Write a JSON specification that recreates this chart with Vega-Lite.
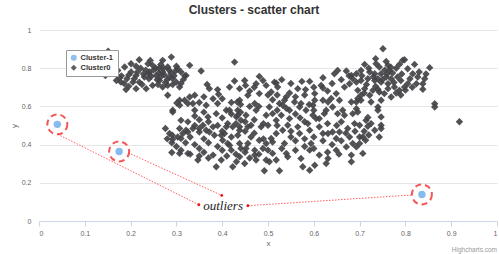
{
  "$schema": "https://vega.github.io/schema/vega-lite/v6.json",
  "width": 458,
  "height": 191,
  "autosize": {"type": "none"},
  "padding": {"left": 39, "top": 30, "right": 2, "bottom": 33},
  "background": "white",
  "title": {"text": "Clusters - scatter chart", "fontSize": 12, "fontWeight": "bold", "color": "#333333", "font": "Liberation Sans", "anchor": "middle", "dx": -14, "offset": 9},
  "config": {"view": {"stroke": null}, "font": "Liberation Sans"},
  "datasets": {
    "out": [
      {"x": 0.04, "y": 0.506, "c": "Cluster-1"},
      {"x": 0.175, "y": 0.364, "c": "Cluster-1"},
      {"x": 0.836, "y": 0.139, "c": "Cluster-1"}
    ],
    "arrows": [
      {"x": 0.041, "y": 0.454, "x2": 0.349, "y2": 0.085},
      {"x": 0.195, "y": 0.357, "x2": 0.399, "y2": 0.134},
      {"x": 0.813, "y": 0.136, "x2": 0.456, "y2": 0.080}
    ],
    "notes": [
      {"x": 0.402, "y": 0.076, "t": "outliers"}
    ],
    "credit": [
      {"x": 1.0, "y": -0.152, "t": "Highcharts.com"}
    ],
    "pts": [
      {"x": 0.04, "y": 0.506, "c": "Cluster-1"},
      {"x": 0.175, "y": 0.364, "c": "Cluster-1"},
      {"x": 0.836, "y": 0.139, "c": "Cluster-1"},
      {"x":0.151,"y":0.889,"c":"Cluster0"},{"x":0.145,"y":0.762,"c":"Cluster0"},{"x":0.172,"y":0.788,"c":"Cluster0"},{"x":0.169,"y":0.736,"c":"Cluster0"},{"x":0.179,"y":0.727,"c":"Cluster0"},{"x":0.19,"y":0.688,"c":"Cluster0"},{"x":0.187,"y":0.806,"c":"Cluster0"},{"x":0.201,"y":0.823,"c":"Cluster0"},{"x":0.219,"y":0.844,"c":"Cluster0"},{"x":0.238,"y":0.823,"c":"Cluster0"},{"x":0.248,"y":0.815,"c":"Cluster0"},{"x":0.27,"y":0.841,"c":"Cluster0"},{"x":0.289,"y":0.858,"c":"Cluster0"},{"x":0.303,"y":0.797,"c":"Cluster0"},{"x":0.31,"y":0.78,"c":"Cluster0"},{"x":0.329,"y":0.815,"c":"Cluster0"},{"x":0.281,"y":0.806,"c":"Cluster0"},{"x":0.285,"y":0.754,"c":"Cluster0"},{"x":0.3,"y":0.727,"c":"Cluster0"},{"x":0.307,"y":0.701,"c":"Cluster0"},{"x":0.281,"y":0.71,"c":"Cluster0"},{"x":0.263,"y":0.736,"c":"Cluster0"},{"x":0.256,"y":0.762,"c":"Cluster0"},{"x":0.241,"y":0.78,"c":"Cluster0"},{"x":0.23,"y":0.754,"c":"Cluster0"},{"x":0.219,"y":0.727,"c":"Cluster0"},{"x":0.212,"y":0.762,"c":"Cluster0"},{"x":0.201,"y":0.78,"c":"Cluster0"},{"x":0.205,"y":0.727,"c":"Cluster0"},{"x":0.212,"y":0.693,"c":"Cluster0"},{"x":0.234,"y":0.693,"c":"Cluster0"},{"x":0.248,"y":0.71,"c":"Cluster0"},{"x":0.27,"y":0.701,"c":"Cluster0"},
      {"x":0.18,"y":0.76,"c":"Cluster0"},{"x":0.192,"y":0.745,"c":"Cluster0"},{"x":0.196,"y":0.765,"c":"Cluster0"},{"x":0.208,"y":0.745,"c":"Cluster0"},{"x":0.215,"y":0.78,"c":"Cluster0"},{"x":0.222,"y":0.8,"c":"Cluster0"},{"x":0.228,"y":0.77,"c":"Cluster0"},{"x":0.233,"y":0.79,"c":"Cluster0"},{"x":0.24,"y":0.745,"c":"Cluster0"},{"x":0.245,"y":0.758,"c":"Cluster0"},{"x":0.25,"y":0.79,"c":"Cluster0"},{"x":0.255,"y":0.8,"c":"Cluster0"},{"x":0.258,"y":0.74,"c":"Cluster0"},{"x":0.262,"y":0.775,"c":"Cluster0"},{"x":0.266,"y":0.755,"c":"Cluster0"},{"x":0.27,"y":0.78,"c":"Cluster0"},{"x":0.274,"y":0.765,"c":"Cluster0"},{"x":0.276,"y":0.725,"c":"Cluster0"},{"x":0.28,"y":0.74,"c":"Cluster0"},{"x":0.284,"y":0.79,"c":"Cluster0"},{"x":0.288,"y":0.775,"c":"Cluster0"},{"x":0.292,"y":0.745,"c":"Cluster0"},{"x":0.295,"y":0.76,"c":"Cluster0"},{"x":0.298,"y":0.785,"c":"Cluster0"},{"x":0.292,"y":0.715,"c":"Cluster0"},{"x":0.26,"y":0.715,"c":"Cluster0"},{"x":0.266,"y":0.82,"c":"Cluster0"},{"x":0.243,"y":0.84,"c":"Cluster0"},{"x":0.225,"y":0.715,"c":"Cluster0"},{"x":0.186,"y":0.72,"c":"Cluster0"},{"x":0.176,"y":0.75,"c":"Cluster0"},{"x":0.315,"y":0.74,"c":"Cluster0"},{"x":0.318,"y":0.76,"c":"Cluster0"},{"x":0.31,"y":0.72,"c":"Cluster0"},{"x":0.3,"y":0.81,"c":"Cluster0"},{"x":0.262,"y":0.8,"c":"Cluster0"},{"x":0.212,"y":0.81,"c":"Cluster0"},{"x":0.196,"y":0.705,"c":"Cluster0"},{"x":0.24,"y":0.77,"c":"Cluster0"},{"x":0.272,"y":0.8,"c":"Cluster0"},
      {"x":0.281,"y":0.658,"c":"Cluster0"},{"x":0.307,"y":0.632,"c":"Cluster0"},{"x":0.325,"y":0.615,"c":"Cluster0"},{"x":0.292,"y":0.58,"c":"Cluster0"},{"x":0.307,"y":0.606,"c":"Cluster0"},{"x":0.318,"y":0.632,"c":"Cluster0"},{"x":0.329,"y":0.649,"c":"Cluster0"},{"x":0.336,"y":0.615,"c":"Cluster0"},{"x":0.34,"y":0.58,"c":"Cluster0"},{"x":0.354,"y":0.785,"c":"Cluster0"},{"x":0.372,"y":0.693,"c":"Cluster0"},{"x":0.39,"y":0.688,"c":"Cluster0"},{"x":0.416,"y":0.701,"c":"Cluster0"},{"x":0.427,"y":0.832,"c":"Cluster0"},{"x":0.427,"y":0.733,"c":"Cluster0"},{"x":0.438,"y":0.632,"c":"Cluster0"},{"x":0.416,"y":0.58,"c":"Cluster0"},{"x":0.434,"y":0.554,"c":"Cluster0"},{"x":0.456,"y":0.658,"c":"Cluster0"},{"x":0.367,"y":0.715,"c":"Cluster0"},{"x":0.392,"y":0.663,"c":"Cluster0"},{"x":0.34,"y":0.658,"c":"Cluster0"},{"x":0.321,"y":0.762,"c":"Cluster0"},{"x":0.449,"y":0.736,"c":"Cluster0"},{"x":0.451,"y":0.71,"c":"Cluster0"},{"x":0.438,"y":0.693,"c":"Cluster0"},{"x":0.474,"y":0.719,"c":"Cluster0"},{"x":0.481,"y":0.757,"c":"Cluster0"},{"x":0.496,"y":0.71,"c":"Cluster0"},{"x":0.481,"y":0.667,"c":"Cluster0"},{"x":0.433,"y":0.623,"c":"Cluster0"},{"x":0.514,"y":0.727,"c":"Cluster0"},{"x":0.507,"y":0.675,"c":"Cluster0"},{"x":0.301,"y":0.618,"c":"Cluster0"},{"x":0.292,"y":0.571,"c":"Cluster0"},
      {"x":0.518,"y":0.722,"c":"Cluster0"},{"x":0.521,"y":0.701,"c":"Cluster0"},{"x":0.574,"y":0.731,"c":"Cluster0"},{"x":0.591,"y":0.731,"c":"Cluster0"},{"x":0.547,"y":0.67,"c":"Cluster0"},{"x":0.565,"y":0.693,"c":"Cluster0"},{"x":0.582,"y":0.688,"c":"Cluster0"},{"x":0.602,"y":0.667,"c":"Cluster0"},{"x":0.62,"y":0.696,"c":"Cluster0"},{"x":0.645,"y":0.771,"c":"Cluster0"},{"x":0.652,"y":0.788,"c":"Cluster0"},{"x":0.671,"y":0.785,"c":"Cluster0"},{"x":0.682,"y":0.762,"c":"Cluster0"},{"x":0.693,"y":0.771,"c":"Cluster0"},{"x":0.678,"y":0.719,"c":"Cluster0"},{"x":0.667,"y":0.701,"c":"Cluster0"},{"x":0.649,"y":0.667,"c":"Cluster0"},{"x":0.656,"y":0.632,"c":"Cluster0"},{"x":0.638,"y":0.641,"c":"Cluster0"},{"x":0.696,"y":0.684,"c":"Cluster0"},{"x":0.696,"y":0.641,"c":"Cluster0"},{"x":0.51,"y":0.635,"c":"Cluster0"},{"x":0.536,"y":0.632,"c":"Cluster0"},{"x":0.558,"y":0.623,"c":"Cluster0"},{"x":0.602,"y":0.632,"c":"Cluster0"},{"x":0.62,"y":0.632,"c":"Cluster0"},{"x":0.489,"y":0.736,"c":"Cluster0"},{"x":0.616,"y":0.71,"c":"Cluster0"},{"x":0.365,"y":0.606,"c":"Cluster0"},{"x":0.39,"y":0.615,"c":"Cluster0"},{"x":0.387,"y":0.562,"c":"Cluster0"},{"x":0.369,"y":0.545,"c":"Cluster0"},{"x":0.409,"y":0.58,"c":"Cluster0"},{"x":0.434,"y":0.58,"c":"Cluster0"},{"x":0.431,"y":0.545,"c":"Cluster0"},{"x":0.452,"y":0.554,"c":"Cluster0"},{"x":0.471,"y":0.615,"c":"Cluster0"},{"x":0.496,"y":0.554,"c":"Cluster0"},{"x":0.627,"y":0.58,"c":"Cluster0"},{"x":0.605,"y":0.536,"c":"Cluster0"},{"x":0.641,"y":0.597,"c":"Cluster0"},{"x":0.663,"y":0.58,"c":"Cluster0"},{"x":0.685,"y":0.562,"c":"Cluster0"},{"x":0.569,"y":0.597,"c":"Cluster0"},{"x":0.583,"y":0.58,"c":"Cluster0"},{"x":0.547,"y":0.58,"c":"Cluster0"},{"x":0.525,"y":0.615,"c":"Cluster0"},{"x":0.503,"y":0.597,"c":"Cluster0"},{"x":0.474,"y":0.58,"c":"Cluster0"},{"x":0.74,"y":0.597,"c":"Cluster0"},{"x":0.747,"y":0.545,"c":"Cluster0"},{"x":0.747,"y":0.501,"c":"Cluster0"},{"x":0.714,"y":0.527,"c":"Cluster0"},
      {"x":0.751,"y":0.902,"c":"Cluster0"},{"x":0.798,"y":0.844,"c":"Cluster0"},{"x":0.787,"y":0.82,"c":"Cluster0"},{"x":0.805,"y":0.797,"c":"Cluster0"},{"x":0.853,"y":0.803,"c":"Cluster0"},{"x":0.711,"y":0.82,"c":"Cluster0"},{"x":0.736,"y":0.823,"c":"Cluster0"},{"x":0.743,"y":0.806,"c":"Cluster0"},{"x":0.762,"y":0.815,"c":"Cluster0"},{"x":0.765,"y":0.788,"c":"Cluster0"},{"x":0.703,"y":0.788,"c":"Cluster0"},{"x":0.722,"y":0.78,"c":"Cluster0"},{"x":0.733,"y":0.771,"c":"Cluster0"},{"x":0.747,"y":0.771,"c":"Cluster0"},{"x":0.758,"y":0.754,"c":"Cluster0"},{"x":0.769,"y":0.745,"c":"Cluster0"},{"x":0.783,"y":0.754,"c":"Cluster0"},{"x":0.816,"y":0.771,"c":"Cluster0"},{"x":0.827,"y":0.754,"c":"Cluster0"},{"x":0.842,"y":0.745,"c":"Cluster0"},{"x":0.838,"y":0.719,"c":"Cluster0"},{"x":0.824,"y":0.719,"c":"Cluster0"},{"x":0.805,"y":0.719,"c":"Cluster0"},{"x":0.798,"y":0.701,"c":"Cluster0"},{"x":0.787,"y":0.684,"c":"Cluster0"},{"x":0.776,"y":0.701,"c":"Cluster0"},{"x":0.762,"y":0.719,"c":"Cluster0"},{"x":0.747,"y":0.727,"c":"Cluster0"},{"x":0.733,"y":0.736,"c":"Cluster0"},{"x":0.718,"y":0.745,"c":"Cluster0"},{"x":0.703,"y":0.736,"c":"Cluster0"},{"x":0.693,"y":0.727,"c":"Cluster0"},{"x":0.711,"y":0.693,"c":"Cluster0"},{"x":0.729,"y":0.684,"c":"Cluster0"},{"x":0.743,"y":0.675,"c":"Cluster0"},{"x":0.754,"y":0.667,"c":"Cluster0"},{"x":0.762,"y":0.693,"c":"Cluster0"},{"x":0.769,"y":0.649,"c":"Cluster0"},{"x":0.703,"y":0.658,"c":"Cluster0"},{"x":0.722,"y":0.658,"c":"Cluster0"},{"x":0.725,"y":0.623,"c":"Cluster0"},{"x":0.693,"y":0.623,"c":"Cluster0"},{"x":0.747,"y":0.632,"c":"Cluster0"},{"x":0.864,"y":0.614,"c":"Cluster0"},{"x":0.864,"y":0.597,"c":"Cluster0"},{"x":0.918,"y":0.52,"c":"Cluster0"},{"x":0.794,"y":0.841,"c":"Cluster0"},
      {"x":0.755,"y":0.79,"c":"Cluster0"},{"x":0.772,"y":0.775,"c":"Cluster0"},{"x":0.78,"y":0.8,"c":"Cluster0"},{"x":0.792,"y":0.77,"c":"Cluster0"},{"x":0.775,"y":0.725,"c":"Cluster0"},{"x":0.79,"y":0.735,"c":"Cluster0"},{"x":0.81,"y":0.745,"c":"Cluster0"},{"x":0.815,"y":0.7,"c":"Cluster0"},{"x":0.83,"y":0.78,"c":"Cluster0"},{"x":0.845,"y":0.77,"c":"Cluster0"},{"x":0.72,"y":0.8,"c":"Cluster0"},{"x":0.73,"y":0.755,"c":"Cluster0"},{"x":0.74,"y":0.745,"c":"Cluster0"},{"x":0.75,"y":0.74,"c":"Cluster0"},{"x":0.76,"y":0.77,"c":"Cluster0"},{"x":0.768,"y":0.805,"c":"Cluster0"},{"x":0.715,"y":0.715,"c":"Cluster0"},{"x":0.735,"y":0.705,"c":"Cluster0"},{"x":0.74,"y":0.69,"c":"Cluster0"},{"x":0.78,"y":0.67,"c":"Cluster0"},{"x":0.79,"y":0.66,"c":"Cluster0"},{"x":0.8,"y":0.685,"c":"Cluster0"},{"x":0.705,"y":0.76,"c":"Cluster0"},{"x":0.685,"y":0.745,"c":"Cluster0"},{"x":0.677,"y":0.76,"c":"Cluster0"},{"x":0.71,"y":0.67,"c":"Cluster0"},{"x":0.758,"y":0.835,"c":"Cluster0"},{"x":0.82,"y":0.82,"c":"Cluster0"},{"x":0.735,"y":0.85,"c":"Cluster0"},{"x":0.838,"y":0.69,"c":"Cluster0"},
      {"x":0.703,"y":0.632,"c":"Cluster0"},{"x":0.696,"y":0.571,"c":"Cluster0"},{"x":0.718,"y":0.542,"c":"Cluster0"},{"x":0.74,"y":0.58,"c":"Cluster0"},{"x":0.7,"y":0.501,"c":"Cluster0"},{"x":0.718,"y":0.496,"c":"Cluster0"},{"x":0.747,"y":0.484,"c":"Cluster0"},{"x":0.733,"y":0.475,"c":"Cluster0"},{"x":0.743,"y":0.44,"c":"Cluster0"},{"x":0.707,"y":0.44,"c":"Cluster0"},{"x":0.713,"y":0.423,"c":"Cluster0"},{"x":0.7,"y":0.406,"c":"Cluster0"},{"x":0.693,"y":0.388,"c":"Cluster0"},{"x":0.707,"y":0.354,"c":"Cluster0"},{"x":0.532,"y":0.606,"c":"Cluster0"},{"x":0.572,"y":0.615,"c":"Cluster0"},{"x":0.598,"y":0.606,"c":"Cluster0"},{"x":0.631,"y":0.623,"c":"Cluster0"},{"x":0.682,"y":0.623,"c":"Cluster0"},{"x":0.693,"y":0.588,"c":"Cluster0"},{"x":0.51,"y":0.562,"c":"Cluster0"},{"x":0.529,"y":0.554,"c":"Cluster0"},{"x":0.518,"y":0.527,"c":"Cluster0"},{"x":0.547,"y":0.536,"c":"Cluster0"},{"x":0.543,"y":0.501,"c":"Cluster0"},{"x":0.532,"y":0.475,"c":"Cluster0"},{"x":0.518,"y":0.458,"c":"Cluster0"},{"x":0.51,"y":0.414,"c":"Cluster0"},{"x":0.536,"y":0.406,"c":"Cluster0"},{"x":0.565,"y":0.493,"c":"Cluster0"},{"x":0.569,"y":0.458,"c":"Cluster0"},{"x":0.587,"y":0.51,"c":"Cluster0"},{"x":0.591,"y":0.475,"c":"Cluster0"},{"x":0.598,"y":0.554,"c":"Cluster0"},{"x":0.612,"y":0.536,"c":"Cluster0"},{"x":0.623,"y":0.562,"c":"Cluster0"},{"x":0.612,"y":0.493,"c":"Cluster0"},{"x":0.62,"y":0.458,"c":"Cluster0"},{"x":0.631,"y":0.458,"c":"Cluster0"},{"x":0.641,"y":0.466,"c":"Cluster0"},{"x":0.656,"y":0.466,"c":"Cluster0"},{"x":0.652,"y":0.562,"c":"Cluster0"},{"x":0.667,"y":0.554,"c":"Cluster0"},{"x":0.689,"y":0.51,"c":"Cluster0"},{"x":0.674,"y":0.484,"c":"Cluster0"},{"x":0.649,"y":0.432,"c":"Cluster0"},{"x":0.678,"y":0.44,"c":"Cluster0"},{"x":0.685,"y":0.406,"c":"Cluster0"},{"x":0.671,"y":0.388,"c":"Cluster0"},{"x":0.594,"y":0.406,"c":"Cluster0"},{"x":0.591,"y":0.371,"c":"Cluster0"},{"x":0.572,"y":0.327,"c":"Cluster0"},{"x":0.612,"y":0.345,"c":"Cluster0"},{"x":0.649,"y":0.371,"c":"Cluster0"},{"x":0.682,"y":0.31,"c":"Cluster0"},{"x":0.543,"y":0.336,"c":"Cluster0"},{"x":0.51,"y":0.354,"c":"Cluster0"},{"x":0.518,"y":0.319,"c":"Cluster0"},{"x":0.492,"y":0.263,"c":"Cluster0"},{"x":0.525,"y":0.263,"c":"Cluster0"},{"x":0.503,"y":0.31,"c":"Cluster0"},{"x":0.576,"y":0.284,"c":"Cluster0"},{"x":0.591,"y":0.266,"c":"Cluster0"},{"x":0.602,"y":0.292,"c":"Cluster0"},{"x":0.627,"y":0.301,"c":"Cluster0"},{"x":0.631,"y":0.327,"c":"Cluster0"},{"x":0.682,"y":0.345,"c":"Cluster0"},{"x":0.54,"y":0.354,"c":"Cluster0"},{"x":0.471,"y":0.345,"c":"Cluster0"},{"x":0.496,"y":0.319,"c":"Cluster0"},
      {"x":0.325,"y":0.519,"c":"Cluster0"},{"x":0.358,"y":0.501,"c":"Cluster0"},{"x":0.412,"y":0.51,"c":"Cluster0"},{"x":0.409,"y":0.493,"c":"Cluster0"},{"x":0.441,"y":0.527,"c":"Cluster0"},{"x":0.438,"y":0.493,"c":"Cluster0"},{"x":0.463,"y":0.501,"c":"Cluster0"},{"x":0.485,"y":0.493,"c":"Cluster0"},{"x":0.5,"y":0.501,"c":"Cluster0"},{"x":0.325,"y":0.466,"c":"Cluster0"},{"x":0.35,"y":0.466,"c":"Cluster0"},{"x":0.372,"y":0.466,"c":"Cluster0"},{"x":0.383,"y":0.449,"c":"Cluster0"},{"x":0.398,"y":0.449,"c":"Cluster0"},{"x":0.401,"y":0.423,"c":"Cluster0"},{"x":0.412,"y":0.406,"c":"Cluster0"},{"x":0.434,"y":0.449,"c":"Cluster0"},{"x":0.438,"y":0.406,"c":"Cluster0"},{"x":0.456,"y":0.406,"c":"Cluster0"},{"x":0.463,"y":0.44,"c":"Cluster0"},{"x":0.481,"y":0.423,"c":"Cluster0"},{"x":0.496,"y":0.406,"c":"Cluster0"},{"x":0.507,"y":0.432,"c":"Cluster0"},{"x":0.42,"y":0.371,"c":"Cluster0"},{"x":0.452,"y":0.38,"c":"Cluster0"},{"x":0.471,"y":0.371,"c":"Cluster0"},{"x":0.489,"y":0.38,"c":"Cluster0"},{"x":0.5,"y":0.371,"c":"Cluster0"},{"x":0.325,"y":0.354,"c":"Cluster0"},{"x":0.347,"y":0.319,"c":"Cluster0"},{"x":0.398,"y":0.319,"c":"Cluster0"},{"x":0.431,"y":0.31,"c":"Cluster0"},{"x":0.449,"y":0.301,"c":"Cluster0"},{"x":0.474,"y":0.319,"c":"Cluster0"},{"x":0.276,"y":0.484,"c":"Cluster0"},{"x":0.291,"y":0.449,"c":"Cluster0"},{"x":0.292,"y":0.428,"c":"Cluster0"},{"x":0.307,"y":0.484,"c":"Cluster0"},{"x":0.321,"y":0.475,"c":"Cluster0"},{"x":0.336,"y":0.484,"c":"Cluster0"},{"x":0.35,"y":0.484,"c":"Cluster0"},{"x":0.365,"y":0.475,"c":"Cluster0"},{"x":0.38,"y":0.493,"c":"Cluster0"},{"x":0.31,"y":0.432,"c":"Cluster0"},{"x":0.29,"y":0.359,"c":"Cluster0"},{"x":0.307,"y":0.354,"c":"Cluster0"},{"x":0.38,"y":0.345,"c":"Cluster0"},{"x":0.387,"y":0.284,"c":"Cluster0"},{"x":0.423,"y":0.284,"c":"Cluster0"},{"x":0.438,"y":0.336,"c":"Cluster0"},{"x":0.416,"y":0.397,"c":"Cluster0"},{"x":0.441,"y":0.38,"c":"Cluster0"},{"x":0.405,"y":0.458,"c":"Cluster0"},{"x":0.423,"y":0.493,"c":"Cluster0"},{"x":0.438,"y":0.475,"c":"Cluster0"},{"x":0.456,"y":0.493,"c":"Cluster0"},{"x":0.285,"y":0.458,"c":"Cluster0"},{"x":0.303,"y":0.44,"c":"Cluster0"},{"x":0.314,"y":0.458,"c":"Cluster0"},{"x":0.31,"y":0.527,"c":"Cluster0"},
      {"x":0.55,"y":0.44,"c":"Cluster0"},{"x":0.56,"y":0.42,"c":"Cluster0"},{"x":0.58,"y":0.43,"c":"Cluster0"},{"x":0.6,"y":0.44,"c":"Cluster0"},{"x":0.62,"y":0.42,"c":"Cluster0"},{"x":0.64,"y":0.4,"c":"Cluster0"},{"x":0.66,"y":0.42,"c":"Cluster0"},{"x":0.655,"y":0.35,"c":"Cluster0"},{"x":0.63,"y":0.36,"c":"Cluster0"},{"x":0.6,"y":0.38,"c":"Cluster0"},{"x":0.58,"y":0.39,"c":"Cluster0"},{"x":0.56,"y":0.37,"c":"Cluster0"},{"x":0.53,"y":0.38,"c":"Cluster0"},{"x":0.52,"y":0.5,"c":"Cluster0"},{"x":0.55,"y":0.47,"c":"Cluster0"},{"x":0.58,"y":0.52,"c":"Cluster0"},{"x":0.63,"y":0.51,"c":"Cluster0"},{"x":0.65,"y":0.5,"c":"Cluster0"},{"x":0.66,"y":0.52,"c":"Cluster0"},{"x":0.67,"y":0.46,"c":"Cluster0"},{"x":0.69,"y":0.47,"c":"Cluster0"},{"x":0.7,"y":0.44,"c":"Cluster0"},{"x":0.71,"y":0.47,"c":"Cluster0"},{"x":0.725,"y":0.51,"c":"Cluster0"},{"x":0.72,"y":0.45,"c":"Cluster0"},{"x":0.36,"y":0.43,"c":"Cluster0"},{"x":0.34,"y":0.4,"c":"Cluster0"},{"x":0.35,"y":0.38,"c":"Cluster0"},{"x":0.37,"y":0.41,"c":"Cluster0"},{"x":0.39,"y":0.39,"c":"Cluster0"},{"x":0.4,"y":0.37,"c":"Cluster0"},{"x":0.36,"y":0.36,"c":"Cluster0"},{"x":0.37,"y":0.33,"c":"Cluster0"},{"x":0.41,"y":0.34,"c":"Cluster0"},{"x":0.43,"y":0.35,"c":"Cluster0"},{"x":0.45,"y":0.36,"c":"Cluster0"},{"x":0.46,"y":0.33,"c":"Cluster0"},{"x":0.48,"y":0.35,"c":"Cluster0"},{"x":0.49,"y":0.43,"c":"Cluster0"},{"x":0.47,"y":0.46,"c":"Cluster0"},{"x":0.45,"y":0.47,"c":"Cluster0"},{"x":0.42,"y":0.44,"c":"Cluster0"},{"x":0.39,"y":0.5,"c":"Cluster0"},{"x":0.37,"y":0.52,"c":"Cluster0"},{"x":0.35,"y":0.53,"c":"Cluster0"},{"x":0.34,"y":0.55,"c":"Cluster0"},{"x":0.36,"y":0.57,"c":"Cluster0"},{"x":0.4,"y":0.54,"c":"Cluster0"},{"x":0.42,"y":0.56,"c":"Cluster0"},{"x":0.45,"y":0.52,"c":"Cluster0"},{"x":0.47,"y":0.53,"c":"Cluster0"},{"x":0.48,"y":0.6,"c":"Cluster0"},{"x":0.46,"y":0.6,"c":"Cluster0"},{"x":0.44,"y":0.61,"c":"Cluster0"},{"x":0.42,"y":0.62,"c":"Cluster0"},{"x":0.4,"y":0.64,"c":"Cluster0"},{"x":0.38,"y":0.64,"c":"Cluster0"},{"x":0.36,"y":0.65,"c":"Cluster0"},{"x":0.35,"y":0.62,"c":"Cluster0"},{"x":0.5,"y":0.66,"c":"Cluster0"},{"x":0.52,"y":0.66,"c":"Cluster0"},{"x":0.54,"y":0.65,"c":"Cluster0"},{"x":0.56,"y":0.65,"c":"Cluster0"},{"x":0.58,"y":0.66,"c":"Cluster0"},{"x":0.6,"y":0.7,"c":"Cluster0"},{"x":0.63,"y":0.68,"c":"Cluster0"},{"x":0.64,"y":0.72,"c":"Cluster0"},{"x":0.66,"y":0.74,"c":"Cluster0"},{"x":0.62,"y":0.75,"c":"Cluster0"},{"x":0.55,"y":0.72,"c":"Cluster0"},{"x":0.53,"y":0.74,"c":"Cluster0"},{"x":0.47,"y":0.7,"c":"Cluster0"},{"x":0.46,"y":0.68,"c":"Cluster0"},{"x":0.59,"y":0.61,"c":"Cluster0"},{"x":0.6,"y":0.58,"c":"Cluster0"},{"x":0.56,"y":0.56,"c":"Cluster0"},{"x":0.54,"y":0.59,"c":"Cluster0"},{"x":0.57,"y":0.54,"c":"Cluster0"},{"x":0.52,"y":0.58,"c":"Cluster0"},{"x":0.49,"y":0.51,"c":"Cluster0"},{"x":0.44,"y":0.57,"c":"Cluster0"},{"x":0.43,"y":0.51,"c":"Cluster0"},{"x":0.4,"y":0.47,"c":"Cluster0"},{"x":0.34,"y":0.5,"c":"Cluster0"},{"x":0.33,"y":0.44,"c":"Cluster0"},{"x":0.32,"y":0.41,"c":"Cluster0"},{"x":0.3,"y":0.39,"c":"Cluster0"},{"x":0.31,"y":0.37,"c":"Cluster0"},{"x":0.33,"y":0.35,"c":"Cluster0"},{"x":0.35,"y":0.34,"c":"Cluster0"},{"x":0.29,"y":0.41,"c":"Cluster0"},{"x":0.28,"y":0.43,"c":"Cluster0"}
    ]
  },
  "layer": [
    {
      "data": {"name": "pts"},
      "mark": {"type": "point", "filled": true, "opacity": 0.92, "size": 55},
      "encoding": {
        "x": {"field": "x", "type": "quantitative", "scale": {"domain": [0, 1], "nice": false, "zero": false},
          "axis": {"title": "x", "values": [0, 0.1, 0.2, 0.3, 0.4, 0.5, 0.6, 0.7, 0.8, 0.9, 1], "tickCount": 20, "format": "~g", "grid": false,
            "domainColor": "#ccd6eb", "tickColor": "#ccd6eb", "tickSize": 5, "labelFontSize": 7, "labelColor": "#666666", "labelPadding": 3,
            "titleFontSize": 8, "titleFontWeight": "normal", "titleColor": "#666666", "titlePadding": 3, "labelFont": "Liberation Sans", "titleFont": "Liberation Sans"}},
        "y": {"field": "y", "type": "quantitative", "scale": {"domain": [0, 1], "nice": false, "zero": false},
          "axis": {"title": "y", "values": [0, 0.2, 0.4, 0.6, 0.8, 1], "tickCount": 20, "format": "~g", "grid": true, "gridColor": "#e6e6e6", "domain": false, "ticks": false,
            "labelFontSize": 7, "labelColor": "#666666", "labelPadding": 8, "titleFontSize": 8, "titleFontWeight": "normal", "titleColor": "#666666", "titlePadding": 3,
            "labelFont": "Liberation Sans", "titleFont": "Liberation Sans"}},
        "color": {"field": "c", "type": "nominal", "scale": {"domain": ["Cluster-1", "Cluster0"], "range": ["#7cb5ec", "#434348"]},
          "legend": {"title": null, "orient": "none", "legendX": 27, "legendY": 20, "strokeColor": "#999999", "fillColor": "white", "padding": 4,
            "labelFontSize": 7.5, "labelFontWeight": "bold", "labelColor": "#333333", "labelFont": "Liberation Sans", "symbolSize": 36, "rowPadding": 1, "labelOffset": 3, "symbolStrokeWidth": 0, "symbolOpacity": 1}},
        "shape": {"field": "c", "type": "nominal", "scale": {"domain": ["Cluster-1", "Cluster0"], "range": ["circle", "diamond"]}, "legend": {"title": null}}
      }
    },
    {
      "data": {"name": "out"},
      "mark": {"type": "point", "shape": "circle", "filled": false, "size": 400, "stroke": "#ee1111", "strokeWidth": 2, "strokeDash": [6, 4]},
      "encoding": {
        "x": {"field": "x", "type": "quantitative", "scale": {"domain": [0, 1], "nice": false, "zero": false}},
        "y": {"field": "y", "type": "quantitative", "scale": {"domain": [0, 1], "nice": false, "zero": false}}
      }
    },
    {
      "data": {"name": "arrows"},
      "mark": {"type": "rule", "color": "#ff3333", "strokeWidth": 1, "strokeDash": [1.5, 1.5], "opacity": 0.8},
      "encoding": {
        "x": {"field": "x", "type": "quantitative", "scale": {"domain": [0, 1], "nice": false, "zero": false}},
        "y": {"field": "y", "type": "quantitative", "scale": {"domain": [0, 1], "nice": false, "zero": false}},
        "x2": {"field": "x2"},
        "y2": {"field": "y2"}
      }
    },
    {
      "data": {"name": "arrows"},
      "mark": {"type": "point", "shape": "circle", "filled": true, "size": 8, "color": "#ee1111", "opacity": 1},
      "encoding": {
        "x": {"field": "x2", "type": "quantitative", "scale": {"domain": [0, 1], "nice": false, "zero": false}},
        "y": {"field": "y2", "type": "quantitative", "scale": {"domain": [0, 1], "nice": false, "zero": false}}
      }
    },
    {
      "data": {"name": "notes"},
      "mark": {"type": "text", "font": "Liberation Serif", "fontStyle": "italic", "fontSize": 13, "color": "#222222", "align": "center", "baseline": "middle"},
      "encoding": {
        "x": {"field": "x", "type": "quantitative", "scale": {"domain": [0, 1], "nice": false, "zero": false}},
        "y": {"field": "y", "type": "quantitative", "scale": {"domain": [0, 1], "nice": false, "zero": false}},
        "text": {"field": "t"}
      }
    },
    {
      "data": {"name": "credit"},
      "mark": {"type": "text", "font": "Liberation Sans", "fontSize": 6.5, "color": "#999999", "align": "right", "baseline": "middle"},
      "encoding": {
        "x": {"field": "x", "type": "quantitative", "scale": {"domain": [0, 1], "nice": false, "zero": false}},
        "y": {"field": "y", "type": "quantitative", "scale": {"domain": [0, 1], "nice": false, "zero": false}},
        "text": {"field": "t"}
      }
    }
  ]
}
